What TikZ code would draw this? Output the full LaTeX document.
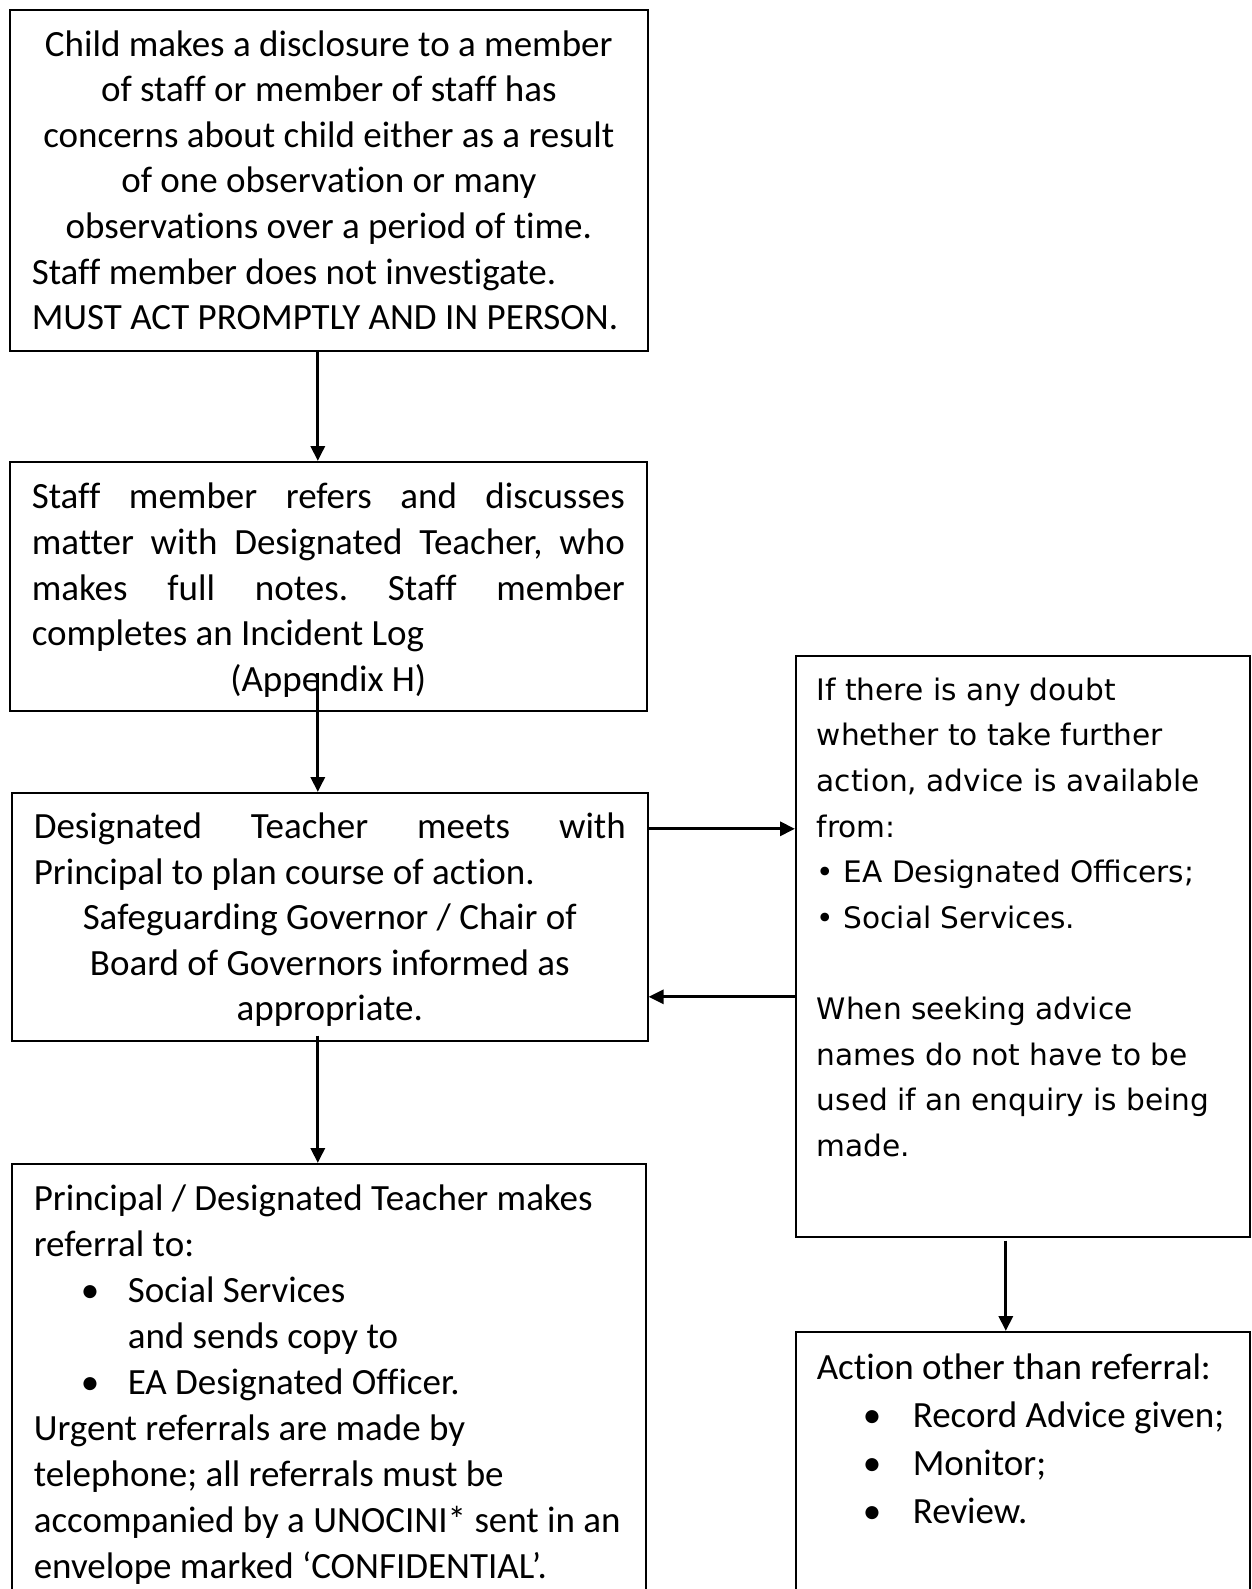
\documentclass[tikz,border=0pt]{standalone}
\usepackage{fontspec}
\setmainfont{Carlito}[Ligatures={NoCommon}]
\newfontfamily\advfont{DejaVu Sans}
\usetikzlibrary{arrows.meta}
\frenchspacing

\tikzset{
  box/.style={draw, line width=1.6pt, anchor=north west, inner xsep=22pt, inner ysep=0pt,
    font=\fontsize{37}{45.6}\selectfont},
  arr/.style={line width=3.1pt, -{Triangle[length=15pt,width=14pt]}}
}
\newcommand{\jline}[1]{\makebox[\linewidth][s]{#1}\\}

\begin{document}
\begin{tikzpicture}[x=1pt,y=-1pt]
  \useasboundingbox (0,0) rectangle (1251,1589);

  %left column
  \node[box] (child) at (9,9) {\parbox[c][341pt][c]{594pt}{\raggedright
    {\centering Child makes a disclosure to a member\\
    of staff or member of staff has\\
    concerns about child either as a result\\
    of one observation or many\\
    observations over a period of time.\par}
    Staff member does not investigate.\\
    MUST ACT PROMPTLY AND IN PERSON.}};

  \node[box] (refer) at (9,461) {\parbox[c][249pt][c]{593pt}{\vspace*{8pt}%
    \jline{Staff member refers and discusses}%
    \jline{matter with Designated Teacher, who}%
    \jline{makes full notes. Staff member}%
    completes an Incident Log\par
    {\centering (Appendix H)\par}}};

  \node[box] (meet) at (11,792) {\parbox[c][248pt][c]{592pt}{\vspace*{6pt}%
    \jline{Designated Teacher meets with}%
    Principal to plan course of action.\par
    {\centering Safeguarding Governor / Chair of\\
    Board of Governors informed as\\
    appropriate.\par}}};

  \node[box, font=\fontsize{37}{46}\selectfont] (referral) at (11,1163) {\parbox[c][437pt][t]{590pt}{\raggedright
    \vspace*{21pt}
    Principal / Designated Teacher makes\\
    referral to:\\
    \hspace*{47pt}\makebox[47pt][l]{•}Social Services\\
    \hspace*{94pt}and sends copy to\\
    \hspace*{47pt}\makebox[47pt][l]{•}EA Designated Officer.\\
    Urgent referrals are made by\\
    telephone; all referrals must be\\
    accompanied by a UNOCINI* sent in an\\
    envelope marked ‘CONFIDENTIAL’.}};

  %right column
  \node[box, inner xsep=21pt, font=\advfont\fontsize{29.6}{45.6}\selectfont] (advice) at (795,655)
    {\parbox[c][581pt][t]{412pt}{\raggedright
    \vspace*{22pt}
    If there is any doubt\\
    whether to take further\\
    action, advice is available\\
    from:\\
    • EA Designated Officers;\\
    • Social Services.\\[45.6pt]
    When seeking advice\\
    names do not have to be\\
    used if an enquiry is being\\
    made.}};

  \node[box, inner xsep=21pt, font=\fontsize{37}{48}\selectfont] (action) at (795,1331)
    {\parbox[c][269pt][t]{412pt}{\raggedright
    \vspace*{22pt}
    Action other than referral:\\
    \hspace*{46pt}\makebox[50pt][l]{•}Record Advice given;\\
    \hspace*{46pt}\makebox[50pt][l]{•}Monitor;\\
    \hspace*{46pt}\makebox[50pt][l]{•}Review.}};

  %arrows
  \draw[arr] ([xshift=-11pt]child.south) -- ([xshift=-10.5pt]refer.north);
  \draw[arr] ([xshift=-10.5pt,yshift=39pt]refer.south) -- ([xshift=-12pt]meet.north);
  \draw[arr] ([xshift=-12pt,yshift=6pt]meet.south) -- ([xshift=-11pt]referral.north);
  \coordinate (p1) at ([yshift=88pt]meet.east);
  \draw[arr] (p1) -- (p1 -| advice.west);
  \coordinate (p2) at ([yshift=-80pt]meet.east);
  \draw[arr] (p2 -| advice.west) -- (p2);
  \draw[arr] ([xshift=-17pt,yshift=-3pt]advice.south) -- ([xshift=-17pt]action.north);
\end{tikzpicture}
\end{document}
